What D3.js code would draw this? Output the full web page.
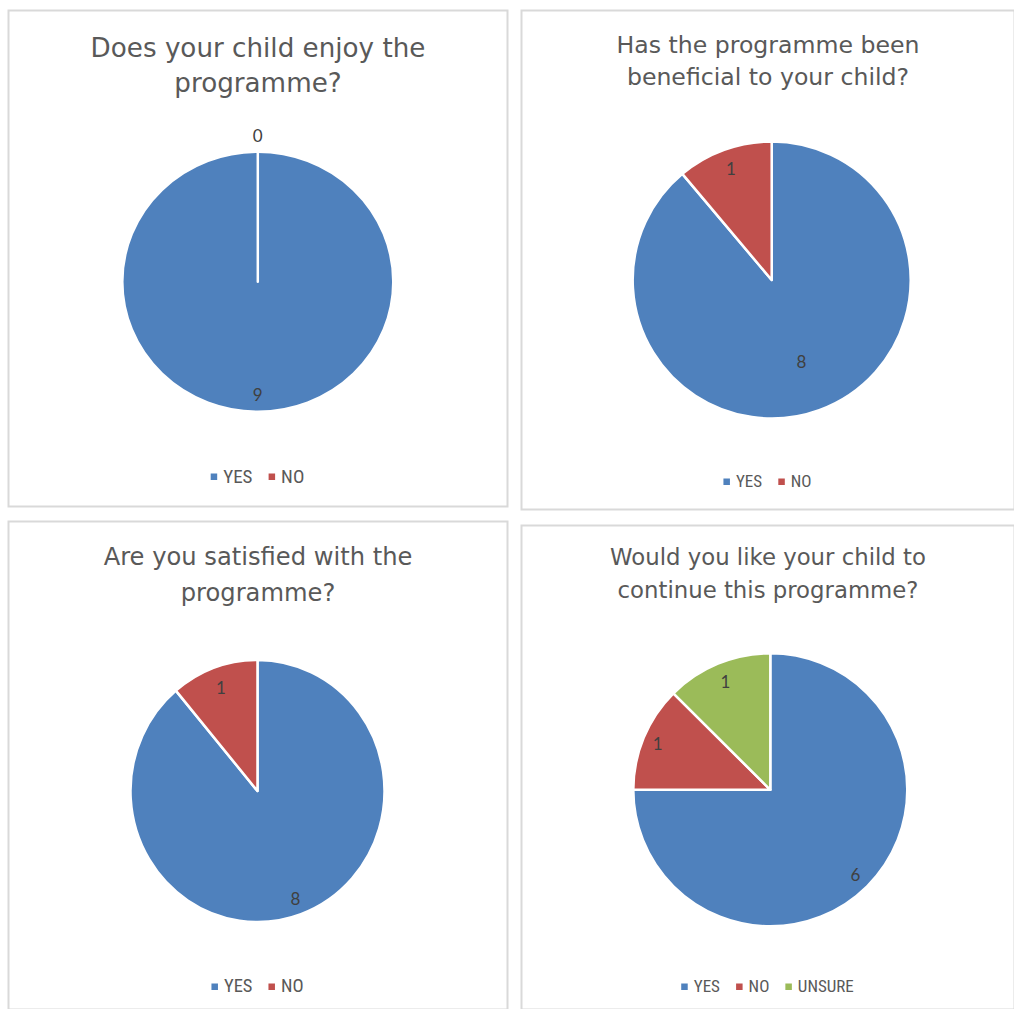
<!DOCTYPE html>
<html>
<head>
<meta charset="utf-8">
<script src="https://cdn.jsdelivr.net/npm/d3@7"></script>
<style>
  html, body { margin: 0; padding: 0; background: #fff; }
  svg { display: block; }
</style>
</head>
<body>
<svg id="chart" width="1014" height="1009"></svg>
<script>
// Survey answers
const answers = ["YES", "NO", "UNSURE"];
const enjoyValues = [9, 0];
const beneficialValues = [8, 1];
const satisfiedValues = [8, 1];
const continueValues = [6, 1, 1];
const questionTitles = [
  ["Does your child enjoy the", "programme?"],
  ["Has the programme been", "beneficial to your child?"],
  ["Are you satisfied with the", "programme?"],
  ["Would you like your child to", "continue this programme?"]
];
const seriesList = [enjoyValues, beneficialValues, satisfiedValues, continueValues];

const colors = d3.scaleOrdinal().domain(answers).range(["#4F81BD", "#C0504D", "#9BBB59"]);

// Panel geometry; titleW is the width the first title line should span
const panels = [
  { x: 8,   y: 10,  w: 499, h: 496, cx: 257.8, cy: 281.7, rx: 135.5, ry: 130,   titleY: 48,  lineH: 35, titleW: 335, legendY: 476, legendSize: 19,   labelR: [0.864, 0.864] },
  { x: 521, y: 10,  w: 493, h: 499, cx: 771.7, cy: 280,   rx: 139,   ry: 138.5, titleY: 45,  lineH: 32, titleW: 303, legendY: 481, legendSize: 17,   labelR: [0.624, 0.86] },
  { x: 8,   y: 521, w: 499, h: 488, cx: 257.5, cy: 791,   rx: 127,   ry: 131,   titleY: 557, lineH: 36, titleW: 309, legendY: 986, legendSize: 18.5, labelR: [0.873, 0.843] },
  { x: 521, y: 525, w: 493, h: 484, cx: 770.3, cy: 789.8, rx: 137,   ry: 136.5, titleY: 557, lineH: 33, titleW: 316, legendY: 986, legendSize: 17,   labelR: [0.88, 0.89, 0.858] }
];

const svg = d3.select("#chart");
const pie = d3.pie().sort(null).value(d => d.value).startAngle(0).endAngle(2 * Math.PI);

panels.forEach((p, i) => {
  const values = seriesList[i];
  const data = values.map((v, k) => ({ name: answers[k], value: v }));
  const g = svg.append("g");

  g.append("rect")
    .attr("x", p.x + 0.5).attr("y", p.y + 0.5)
    .attr("width", p.w).attr("height", p.h)
    .attr("fill", "#fff").attr("stroke", "#d9d9d9").attr("stroke-width", 2);

  const title = g.append("text")
    .attr("text-anchor", "middle")
    .attr("font-family", "'DejaVu Sans', sans-serif")
    .attr("font-size", 20)
    .attr("fill", "#595959");
  const spans = questionTitles[i].map((line, li) =>
    title.append("tspan")
      .attr("x", p.x + p.w / 2 + 0.5)
      .attr("y", p.titleY + li * p.lineH)
      .attr("dominant-baseline", "central")
      .text(line));
  // size the title so its first line spans the panel's title width
  const measured = spans[0].node().getComputedTextLength();
  title.attr("font-size", 20 * p.titleW / measured);

  const arcs = pie(data);
  const arc = d3.arc().innerRadius(0).outerRadius(p.ry);
  const sx = p.rx / p.ry;
  const pg = g.append("g").attr("transform", `translate(${p.cx},${p.cy})`);

  pg.append("g").attr("transform", `scale(${sx},1)`)
    .selectAll("path").data(arcs).join("path")
    .attr("d", arc)
    .attr("fill", d => colors(d.data.name))
    .attr("stroke", "#fff")
    .attr("stroke-width", 2.5)
    .attr("stroke-linejoin", "round")
    .attr("vector-effect", "non-scaling-stroke");

  pg.selectAll("text.val").data(arcs).join("text")
    .attr("class", "val")
    .attr("text-anchor", "middle")
    .attr("dominant-baseline", "central")
    .attr("font-family", "Lato, 'Open Sans', sans-serif")
    .attr("font-size", 17)
    .attr("fill", "#404040")
    .attr("transform", (d, k) => {
      const a = (d.startAngle + d.endAngle) / 2;
      if (d.value === 0) {
        const off = 16;
        return `translate(${Math.sin(a) * (p.rx + off)},${-Math.cos(a) * (p.ry + off)})`;
      }
      const f = p.labelR[k];
      return `translate(${Math.sin(a) * p.rx * f},${-Math.cos(a) * p.ry * f})`;
    })
    .text(d => d.value);

  // Legend
  const leg = g.append("g");
  const items = leg.selectAll("g").data(data).join("g");
  items.append("rect")
    .attr("width", 6.5).attr("height", 6.5)
    .attr("y", -2.5)
    .attr("fill", d => colors(d.name));
  items.append("text")
    .attr("x", 12.5)
    .attr("dominant-baseline", "central")
    .attr("font-family", "'Liberation Sans Narrow', 'Arial Narrow', 'Roboto Condensed', sans-serif")
    .attr("font-size", p.legendSize)
    .attr("fill", "#595959")
    .text(d => d.name);
  let offset = 0;
  items.each(function () {
    d3.select(this).attr("transform", `translate(${offset},0)`);
    offset += this.getBBox().width + 16;
  });
  const totalW = offset - 16;
  leg.attr("transform", `translate(${p.x + p.w / 2 - totalW / 2},${p.legendY})`);
});
</script>
</body>
</html>
